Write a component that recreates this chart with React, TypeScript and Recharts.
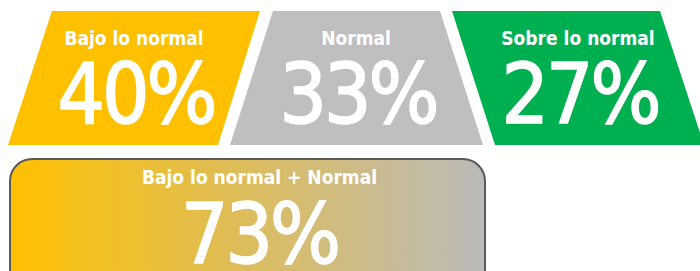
import { BarChart, Bar, XAxis, YAxis } from 'recharts';

const CATEGORIES = ['Bajo lo normal', 'Normal', 'Sobre lo normal'];
const VALUES = [40, 33, 27];
const COLORS = ['#FFC000', '#BFBFBF', '#00B050'];

const COMBINED_LABEL = 'Bajo lo normal + Normal';
const COMBINED_VALUE = 73;

const FONT = '"DejaVu Sans Condensed", "DejaVu Sans", sans-serif';

const panelData = CATEGORIES.map((name, i) => ({ name, value: VALUES[i], color: COLORS[i] }));
const combinedData = [{ name: COMBINED_LABEL, value: COMBINED_VALUE }];

// slanted tiles: [topLeft, topRight, bottomLeft, bottomRight] offsets from band centre
const TILE_OFFSETS = [
  [-83, 125, -127, 83],
  [-84, 83, -127, 126],
  [-127, 81, -84, 125],
];

function PanelShape(props: any) {
  const { x, width, index, payload } = props;
  const bg = props.background || { y: 11, height: 134 };
  const c = x + width / 2;
  const top = bg.y;
  const bottom = bg.y + bg.height;
  const [tl, tr, bl, br] = TILE_OFFSETS[index];
  const d = `M${c + tl},${top} L${c + tr},${top} L${c + br},${bottom} L${c + bl},${bottom} Z`;
  return (
    <g>
      <path d={d} fill={payload.color} />
      <text x={c - 1} y={top + 34} textAnchor="middle" fill="#fff" fontFamily={FONT} fontWeight="bold" fontSize={19}>
        {payload.name}
      </text>
      <text x={c + 1} y={top + 112} textAnchor="middle" fill="#fff" stroke="#fff" strokeWidth={1.6} fontFamily={FONT} fontWeight="normal" fontSize={83} letterSpacing={-3}>
        {payload.value}%
      </text>
    </g>
  );
}

function CombinedShape(props: any) {
  const { x, width, payload } = props;
  const bg = props.background || { y: 9, height: 141 };
  const c = x + width / 2 + 12;
  return (
    <g>
      <defs>
        <linearGradient id="combinedGrad" x1="0" y1="0" x2="1" y2="0">
          <stop offset="0%" stopColor="#FFC000" />
          <stop offset="100%" stopColor="#BABABA" />
        </linearGradient>
      </defs>
      <rect x={x} y={bg.y} width={width} height={bg.height} rx={22} ry={22} fill="url(#combinedGrad)" stroke="#595959" strokeWidth={2} />
      <text x={c} y={bg.y + 25} textAnchor="middle" fill="#fff" fontFamily={FONT} fontWeight="bold" fontSize={19}>
        {payload.name}
      </text>
      <text x={c} y={bg.y + 104} textAnchor="middle" fill="#fff" stroke="#fff" strokeWidth={1.6} fontFamily={FONT} fontWeight="normal" fontSize={83} letterSpacing={-3}>
        {payload.value}%
      </text>
    </g>
  );
}

export default function App() {
  return (
    <div style={{ position: 'absolute', left: 0, top: 0, width: 700, height: 271, overflow: 'hidden', background: '#fff' }}>
      <div style={{ position: 'absolute', left: 0, top: 0 }}>
        <BarChart width={700} height={150} data={panelData} margin={{ top: 11, right: 10, left: 24, bottom: 5 }} barCategoryGap={0}>
          <XAxis dataKey="name" hide />
          <YAxis hide domain={[0, 'dataMax']} />
          <Bar dataKey="value" isAnimationActive={false} shape={<PanelShape />} />
        </BarChart>
      </div>
      <div style={{ position: 'absolute', left: 0, top: 150 }}>
        <BarChart width={700} height={160} data={combinedData} margin={{ top: 9, right: 215, left: 10, bottom: 10 }} barCategoryGap={0}>
          <XAxis dataKey="name" hide />
          <YAxis hide domain={[0, 'dataMax']} />
          <Bar dataKey="value" isAnimationActive={false} shape={<CombinedShape />} />
        </BarChart>
      </div>
    </div>
  );
}
